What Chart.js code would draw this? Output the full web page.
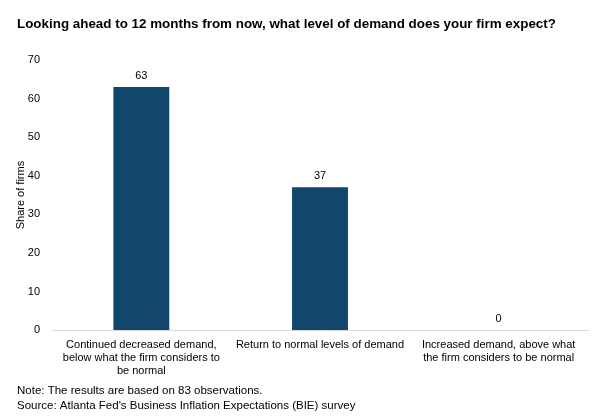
<!DOCTYPE html>
<html>
<head>
<meta charset="utf-8">
<script src="https://cdn.jsdelivr.net/npm/chart.js@4"></script>
<style>
  html, body { margin: 0; padding: 0; background: #ffffff; }
  #wrap { width: 603px; height: 419px; }
</style>
</head>
<body>
<div id="wrap"><canvas id="myChart" width="603" height="419"></canvas></div>
<script>
// Chart data
var categories = [
    ['Continued decreased demand,', 'below what the firm considers to', 'be normal'],
    'Return to normal levels of demand',
    ['Increased demand, above what', 'the firm considers to be normal']
];
var shareOfFirms = [63, 37, 0];
var yTicks = [0, 10, 20, 30, 40, 50, 60, 70];

var titleText = 'Looking ahead to 12 months from now, what level of demand does your firm expect?';
var noteLines = [
    'Note: The results are based on 83 observations.',
    "Source: Atlanta Fed's Business Inflation Expectations (BIE) survey"
];

var fontFamily = '"Liberation Sans", Arial, sans-serif';
var barColor = '#11476a';

// draws the value above each bar
var valueLabels = {
    id: 'valueLabels',
    afterDatasetsDraw: function (chart) {
        var ctx = chart.ctx;
        var meta = chart.getDatasetMeta(0);
        ctx.save();
        ctx.font = '11px ' + fontFamily;
        ctx.fillStyle = '#000000';
        ctx.textAlign = 'center';
        ctx.textBaseline = 'alphabetic';
        meta.data.forEach(function (bar, i) {
            ctx.fillText(String(shareOfFirms[i]), bar.x, bar.y - 8);
        });
        ctx.restore();
    }
};

var myChart = new Chart(document.getElementById('myChart'), {
    type: 'bar',
    data: {
        labels: categories,
        datasets: [{
            label: 'Share of firms',
            data: shareOfFirms,
            backgroundColor: barColor,
            borderWidth: 0,
            barPercentage: 0.313,
            categoryPercentage: 1
        }]
    },
    options: {
        responsive: false,
        animation: false,
        layout: { padding: { left: 17, right: 15, top: 0, bottom: 2 } },
        plugins: {
            legend: { display: false },
            tooltip: { enabled: false },
            title: {
                display: true,
                text: titleText,
                align: 'start',
                color: '#000000',
                font: { family: fontFamily, size: 13.4, weight: 'bold' },
                padding: { top: 16, bottom: 28 }
            },
            subtitle: {
                display: true,
                position: 'bottom',
                text: noteLines,
                align: 'start',
                color: '#000000',
                font: { family: fontFamily, size: 11.5, lineHeight: '15px' },
                padding: { top: -2, bottom: 4 }
            }
        },
        scales: {
            x: {
                grid: { display: false, drawTicks: false },
                border: { display: true, color: '#d9d9d9', width: 1 },
                ticks: {
                    color: '#000000',
                    font: { family: fontFamily, size: 11, lineHeight: 1.18 },
                    maxRotation: 0,
                    autoSkip: false,
                    padding: 8
                }
            },
            y: {
                min: 0,
                max: 70,
                afterBuildTicks: function (axis) {
                    axis.ticks = yTicks.map(function (v) { return { value: v }; });
                },
                afterFit: function (axis) {
                    axis.width = 35;
                },
                grid: { display: false, drawTicks: false },
                border: { display: false },
                ticks: {
                    color: '#000000',
                    font: { family: fontFamily, size: 11 },
                    padding: 12
                },
                title: {
                    display: true,
                    text: 'Share of firms',
                    color: '#000000',
                    font: { family: fontFamily, size: 11 },
                    padding: { top: -3, bottom: 0 }
                }
            }
        }
    },
    plugins: [valueLabels]
});
</script>
</body>
</html>
